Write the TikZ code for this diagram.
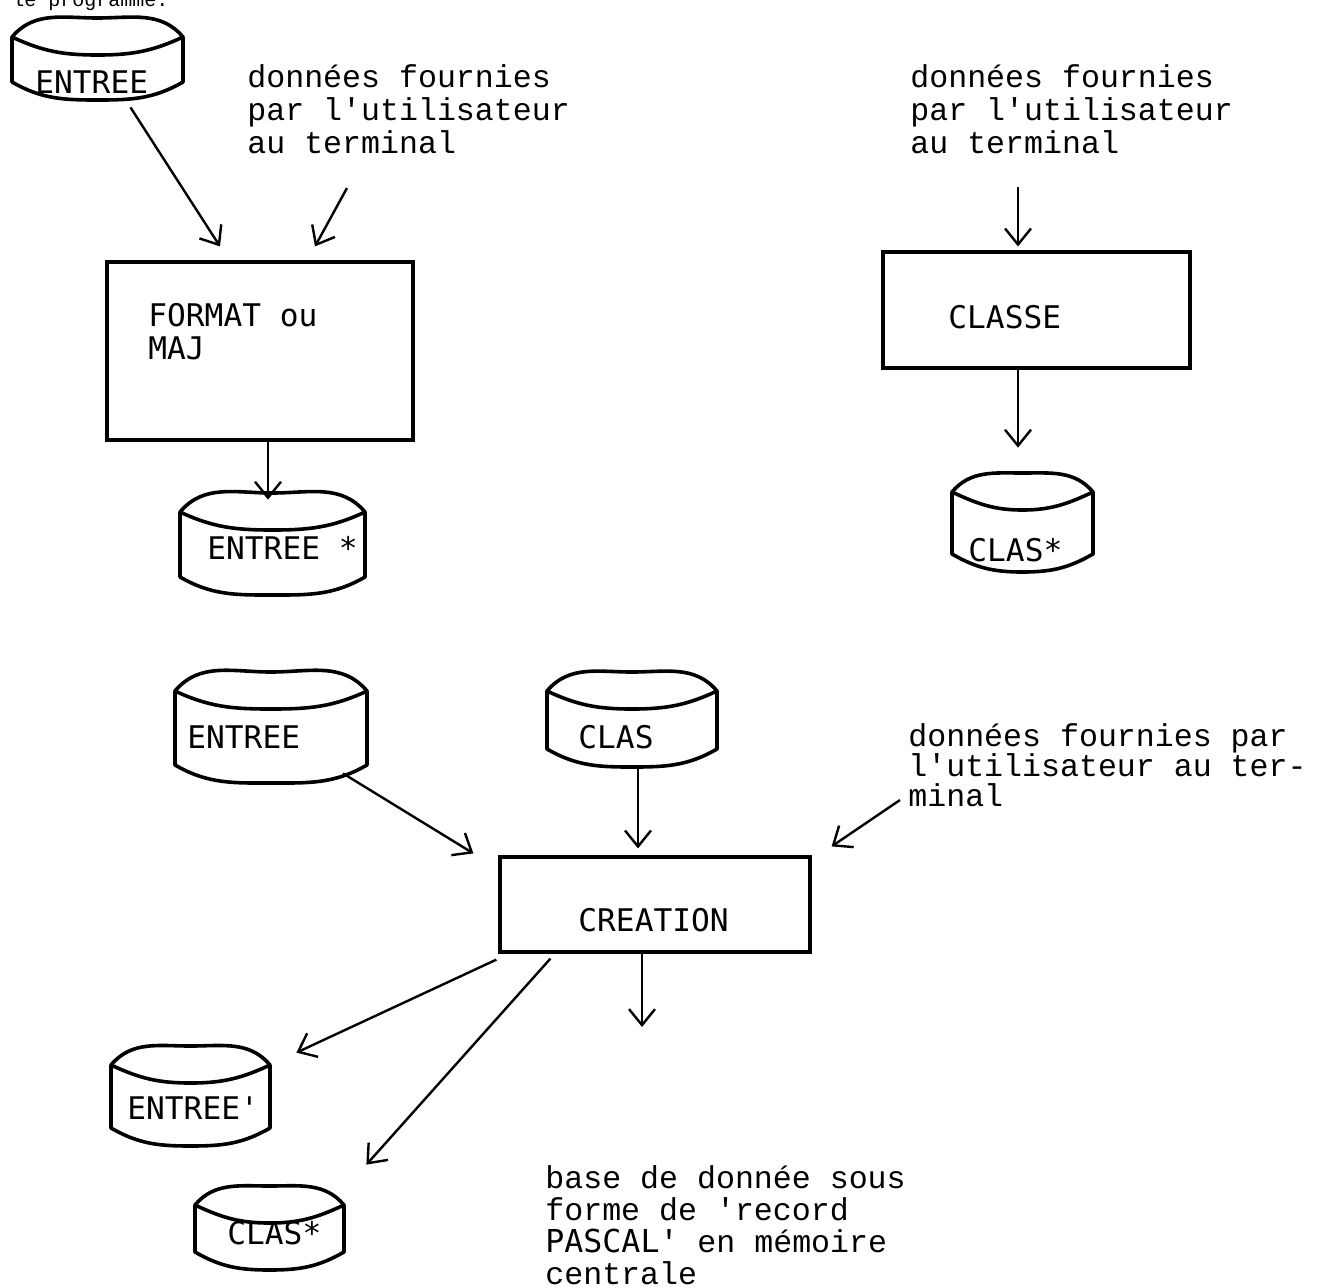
\documentclass[tikz,border=0pt]{standalone}
\usepackage{fontspec}
\newfontfamily\typeFont{Liberation Mono}
\newfontfamily\plotFont{DejaVu Sans Mono}
\usetikzlibrary{arrows.meta, calc, fit, positioning}
\tikzset{
    procBox/.style={draw, line width=1.6pt, inner sep=0pt},
    diskArea/.style={inner sep=0pt},
    diskLine/.style={line width=1.8pt, line join=round, line cap=round},
    flowArrow/.style={-{Straight Barb[length=8pt, width=13pt]}, line width=1.2pt},
    noteText/.style={font=\typeFont\fontsize{15.8}{16.5}\selectfont, align=left, inner sep=0pt, anchor=base west},
    plotText/.style={font=\plotFont\fontsize{15.6}{16.5}\selectfont, align=left, inner sep=0pt, anchor=base west},
}
\newcommand{\drawDisk}[8]{
    % #1 nom, #2 gauche, #3 haut, #4 droite, #5 bas, #6 texte, #7 #8 position du texte
    \pgfmathsetmacro\dskMid{(#2+#4)/2}
    \pgfmathsetmacro\dskTop{-#3}
    \pgfmathsetmacro\dskRim{-#3-19}
    \pgfmathsetmacro\dskFront{-#3-37}
    \pgfmathsetmacro\dskLow{-#5+18}
    \pgfmathsetmacro\dskBot{-#5}
    \pgfmathsetmacro\dskLbl{-#8-11}
    \node[diskArea, fit={(#2,\dskTop) (#4,\dskBot)}] (#1) {};
    \draw[diskLine] (#2,\dskRim) to[out=50,in=180] (\dskMid,\dskTop) to[out=0,in=130] (#4,\dskRim)
        to[out=-155,in=0] (\dskMid,\dskFront) to[out=180,in=-25] (#2,\dskRim) -- (#2,\dskLow)
        to[out=-30,in=180] (\dskMid,\dskBot) to[out=0,in=-150] (#4,\dskLow) -- (#4,\dskRim);
    \node[plotText] (#1-lbl) at (#7,\dskLbl) {#6};
}

\begin{document}
\begin{tikzpicture}[x=0.5pt, y=0.5pt]
    \useasboundingbox (0,0) rectangle (1318,-1287);

    % texte coupe en haut
    \node[noteText, font=\typeFont\fontsize{10}{10}\selectfont] (noteTop) at (12,-6) {le programme.};

    % FORMAT / MAJ
    \drawDisk{dskIn}{12}{18}{183}{100}{ENTREE}{35}{82}
    \node[noteText] (noteTL) at (247,-153) {données fournies\\par l'utilisateur\\au terminal};
    \node[procBox, fit={(107,-262) (413,-440)}] (fmt) {};
    \node[plotText] (fmtLbl) at (148,-359) {FORMAT ou\\MAJ};
    \drawDisk{dskInS}{180}{493}{365}{595}{ENTREE *}{207}{548}

    \draw[flowArrow] ($(dskIn.south)+(33,-7)$) -- ($(fmt.north)+(-40,14)$);
    \draw[flowArrow] ($(noteTL.base west)+(100,-35)$) -- ($(fmt.north)+(55,14)$);
    \draw[flowArrow] ($(fmt.south)+(8,0)$) -- ($(dskInS.north)+(-4.5,-7)$);

    % CLASSE
    \node[noteText] (noteTR) at (910,-153) {données fournies\\par l'utilisateur\\au terminal};
    \node[procBox, fit={(883,-252) (1190,-368)}] (cls) {};
    \node[plotText] (clsLbl) at (948,-328) {CLASSE};
    \drawDisk{dskClsS}{952}{473}{1093}{572}{CLAS*}{968}{550}

    \draw[flowArrow] ($(noteTR.base west)+(108,-34)$) -- ($(cls.north)+(-18.5,4)$);
    \draw[flowArrow] ($(cls.south)+(-18.5,0)$) -- ($(dskClsS.north)+(-4.5,25)$);

    % CREATION
    \drawDisk{dskIn2}{175}{672}{367}{783}{ENTREE}{187}{737}
    \drawDisk{dskCls}{547}{672}{717}{767}{CLAS}{578}{737}
    \node[noteText, font=\typeFont\fontsize{15.8}{15}\selectfont] (noteBR) at (908,-806) {données fournies par\\l'utilisateur au ter-\\minal};
    \node[procBox, fit={(500,-857) (810,-952)}] (crt) {};
    \node[plotText] (crtLbl) at (578,-931) {CREATION};
    \drawDisk{dskInP}{111}{1046}{270}{1146}{ENTREE'}{127}{1108}
    \drawDisk{dskClsP}{195}{1186}{344}{1270}{CLAS*}{227}{1233}
    \node[noteText, font=\typeFont\fontsize{15.8}{16}\selectfont] (noteBot) at (545,-1284) {base de donnée sous\\forme de 'record\\{\plotFont PASCAL}' en mémoire\\centrale};

    \draw[flowArrow] ($(dskIn2.south)+(72,10)$) -- ($(crt.north west)+(-25,2)$);
    \draw[flowArrow] ($(dskCls.south)+(6,0)$) -- ($(crt.north)+(-17,7)$);
    \draw[flowArrow] ($(noteBR.base west)+(-8,6)$) -- ($(crt.north east)+(20,9)$);
    \draw[flowArrow] ($(crt.south west)+(-2,-6)$) -- ($(dskInP.north east)+(26,-7)$);
    \draw[flowArrow] ($(crt.south west)+(52,-5)$) -- ($(dskClsP.north east)+(22,21)$);
    \draw[flowArrow] ($(crt.south)+(-13,0)$) -- ($(noteBot.base west)+(97,257)$);

\end{tikzpicture}
\end{document}
